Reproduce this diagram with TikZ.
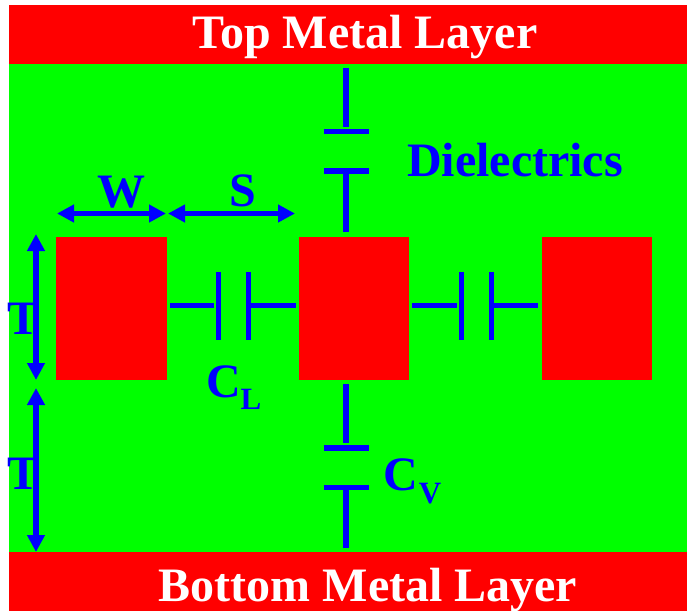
\documentclass[tikz,border=0pt]{standalone}
\usepackage{fontspec}
\setmainfont{Liberation Serif}
\usetikzlibrary{arrows.meta}
\definecolor{metalred}{RGB}{255,0,0}
\definecolor{dielgreen}{RGB}{0,255,0}
\definecolor{inkblue}{RGB}{0,0,255}
\tikzset{
  x=1pt,y=-1pt,
  block/.style={fill=metalred,draw=none,inner sep=0pt,outer sep=0pt,minimum width=#1,minimum height=143pt},
  lead/.style={draw=inkblue,line width=5.8pt},
  plate/.style={draw=inkblue,line width=5.3pt},
  dim/.style={draw=inkblue,line width=5.3pt,{Triangle[length=17pt,width=17pt]}-{Triangle[length=17pt,width=17pt]}},
  lbl/.style={text=inkblue,font=\fontsize{48}{48}\selectfont\bfseries,anchor=base,inner sep=0pt},
  sublbl/.style={text=inkblue,font=\fontsize{31}{31}\selectfont\bfseries,anchor=base,inner sep=0pt},
  bar/.style={text=white,font=\fontsize{48}{48}\selectfont\bfseries,anchor=base,inner sep=0pt}
}
\begin{document}
\begin{tikzpicture}
\useasboundingbox (0,0) rectangle (687,611);
\fill[white] (0,0) rectangle (687,611);
\fill[dielgreen] (9,64) rectangle (687,552);
\fill[metalred] (9,5) rectangle (687,64);
\fill[metalred] (9,552) rectangle (687,611);
\node[block=111pt] (m1) at (111.5,308.5) {};
\node[block=110pt] (m2) at (354,308.5) {};
\node[block=110pt] (m3) at (597,308.5) {};
\node[bar] (top) at (365,48.5) {Top Metal Layer};
\node[bar] (bottom) at (368,601.5) {Bottom Metal Layer};
\node[lbl] (diel) at (515,176) {Dielectrics};
\node[lbl] (w) at (121.5,207) {W};
\node[lbl] (s) at (242.5,206) {S};
\node[lbl] (t1) at (24,334) {T};
\node[lbl] (t2) at (24,489) {T};
\node[lbl] (cl) at (223.5,397) {C};
\node[sublbl] (cls) at (251,409) {L};
\node[lbl] (cv) at (401,490) {C};
\node[sublbl] (cvs) at (430,503) {V};
% dimension arrows
\coordinate (wa) at (57,213.5); \coordinate (wb) at (166,213.5);
\coordinate (sa) at (168,213.5); \coordinate (sb) at (295,213.5);
\coordinate (ta) at (36,234); \coordinate (tb) at (36,380);
\coordinate (tc) at (36,388); \coordinate (td) at (36,552);
\draw[dim] (wa) -- (wb);
\draw[dim] (sa) -- (sb);
\draw[dim] (ta) -- (tb);
\draw[dim] (tc) -- (td);
% left lateral capacitor
\coordinate (a1) at (170,305.5); \coordinate (a2) at (214,305.5);
\coordinate (a3) at (218.5,272); \coordinate (a4) at (218.5,340);
\coordinate (a5) at (248.5,272); \coordinate (a6) at (248.5,340);
\coordinate (a7) at (251,305.5); \coordinate (a8) at (296,305.5);
\draw[lead] (a1) -- (a2); \draw[lead] (a7) -- (a8);
\draw[plate] (a3) -- (a4); \draw[plate] (a5) -- (a6);
% right lateral capacitor
\coordinate (b1) at (412,305.5); \coordinate (b2) at (457,305.5);
\coordinate (b3) at (461.5,272); \coordinate (b4) at (461.5,340);
\coordinate (b5) at (491.5,272); \coordinate (b6) at (491.5,340);
\coordinate (b7) at (494,305.5); \coordinate (b8) at (538,305.5);
\draw[lead] (b1) -- (b2); \draw[lead] (b7) -- (b8);
\draw[plate] (b3) -- (b4); \draw[plate] (b5) -- (b6);
% top vertical capacitor
\coordinate (c1) at (346,68); \coordinate (c2) at (346,127);
\coordinate (c3) at (323.5,131.5); \coordinate (c4) at (368.5,131.5);
\coordinate (c5) at (323.5,171); \coordinate (c6) at (368.5,171);
\coordinate (c7) at (346,173); \coordinate (c8) at (346,232);
\draw[lead] (c1) -- (c2); \draw[lead] (c7) -- (c8);
\draw[plate] (c3) -- (c4); \draw[plate] (c5) -- (c6);
% bottom vertical capacitor
\coordinate (d1) at (346,384); \coordinate (d2) at (346,443);
\coordinate (d3) at (323.5,448); \coordinate (d4) at (368.5,448);
\coordinate (d5) at (323.5,487.7); \coordinate (d6) at (368.5,487.7);
\coordinate (d7) at (346,490); \coordinate (d8) at (346,548);
\draw[lead] (d1) -- (d2); \draw[lead] (d7) -- (d8);
\draw[plate] (d3) -- (d4); \draw[plate] (d5) -- (d6);
\end{tikzpicture}
\end{document}
